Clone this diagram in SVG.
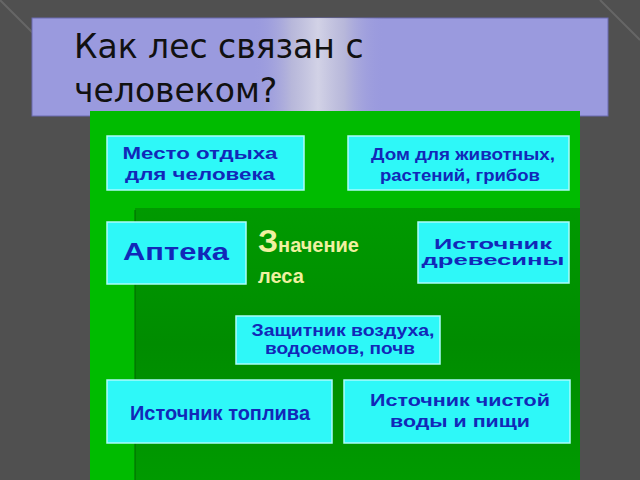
<svg xmlns="http://www.w3.org/2000/svg" width="640" height="480" viewBox="0 0 640 480">
<defs>
<linearGradient id="glow" x1="0" y1="0" x2="1" y2="0"><stop offset="0" stop-color="#9a9ade" stop-opacity="0"/><stop offset="0.3" stop-color="#c8c8d8" stop-opacity="0.8"/><stop offset="0.5" stop-color="#e0e0e8"/><stop offset="0.7" stop-color="#c8c8d8" stop-opacity="0.8"/><stop offset="1" stop-color="#9a9ade" stop-opacity="0"/></linearGradient>
<linearGradient id="band" x1="0" y1="0" x2="0" y2="1"><stop offset="0" stop-color="#009a00"/><stop offset="0.5" stop-color="#008c00"/><stop offset="1" stop-color="#009a00"/></linearGradient>
<style>
.box{fill:#2ef8f8;stroke:#aafcfc;stroke-width:1.5}
.t{font-family:"Liberation Sans",Arial,sans-serif;font-weight:bold;fill:#1228b8;text-anchor:middle}
</style>
</defs>
<rect width="640" height="480" fill="#505050"/>
<path d="M0 0L40 40M600 0L640 40" stroke="#666" stroke-width="2"/>
<rect x="32" y="18" width="576" height="98" fill="#9a9ade" stroke="#6a6ab0"/>
<rect x="252" y="18" width="132" height="98" fill="url(#glow)" opacity="0.8"/>
<text x="74" y="58" font-family="'DejaVu Sans',sans-serif" font-size="33" fill="#111">Как лес связан с</text>
<text x="74" y="102" font-family="'DejaVu Sans',sans-serif" font-size="33" fill="#111">человеком?</text>
<rect x="90" y="111" width="490" height="369" fill="#00bb00"/>
<rect x="135" y="208" width="445" height="272" fill="url(#band)"/>
<line x1="135" y1="210" x2="135" y2="480" stroke="#006600" stroke-width="1"/>
<g id="n1"><rect class="box" x="107" y="136" width="197" height="54"/>
<text class="t" x="200" y="159" font-size="17" textLength="155" lengthAdjust="spacingAndGlyphs">Место отдыха</text>
<text class="t" x="200" y="180" font-size="17" textLength="150" lengthAdjust="spacingAndGlyphs">для человека</text></g>
<g id="n2"><rect class="box" x="348" y="136" width="221" height="54"/>
<text class="t" x="463" y="160" font-size="17" textLength="184" lengthAdjust="spacingAndGlyphs">Дом для животных,</text>
<text class="t" x="460" y="181" font-size="17" textLength="160" lengthAdjust="spacingAndGlyphs">растений, грибов</text></g>
<g id="n3"><rect class="box" x="107" y="222" width="139" height="62"/>
<text class="t" x="176" y="260" font-size="23" textLength="106" lengthAdjust="spacingAndGlyphs">Аптека</text></g>
<g id="center"><text x="258" y="252" font-family="'Liberation Sans',Arial,sans-serif" font-weight="bold" fill="#f0f0a0"><tspan font-size="32">З</tspan><tspan font-size="20">начение</tspan></text>
<text x="258" y="283" font-family="'Liberation Sans',Arial,sans-serif" font-weight="bold" font-size="20" fill="#f0f0a0">леса</text></g>
<g id="n4"><rect class="box" x="418" y="222" width="151" height="61"/>
<text class="t" x="493" y="249" font-size="15" textLength="118" lengthAdjust="spacingAndGlyphs">Источник</text>
<text class="t" x="493" y="265" font-size="15" textLength="143" lengthAdjust="spacingAndGlyphs">древесины</text></g>
<g id="n5"><rect class="box" x="236" y="316" width="204" height="48"/>
<text class="t" x="343" y="336" font-size="16" textLength="183" lengthAdjust="spacingAndGlyphs">Защитник воздуха,</text>
<text class="t" x="340" y="354" font-size="16" textLength="150" lengthAdjust="spacingAndGlyphs">водоемов, почв</text></g>
<g id="n6"><rect class="box" x="107" y="380" width="225" height="63"/>
<text class="t" x="220" y="420" font-size="20" textLength="180" lengthAdjust="spacingAndGlyphs">Источник топлива</text></g>
<g id="n7"><rect class="box" x="344" y="380" width="226" height="63"/>
<text class="t" x="460" y="406" font-size="17" textLength="180" lengthAdjust="spacingAndGlyphs">Источник чистой</text>
<text class="t" x="460" y="427" font-size="17" textLength="140" lengthAdjust="spacingAndGlyphs">воды и пищи</text></g>
<g id="connectors"/>
</svg>
